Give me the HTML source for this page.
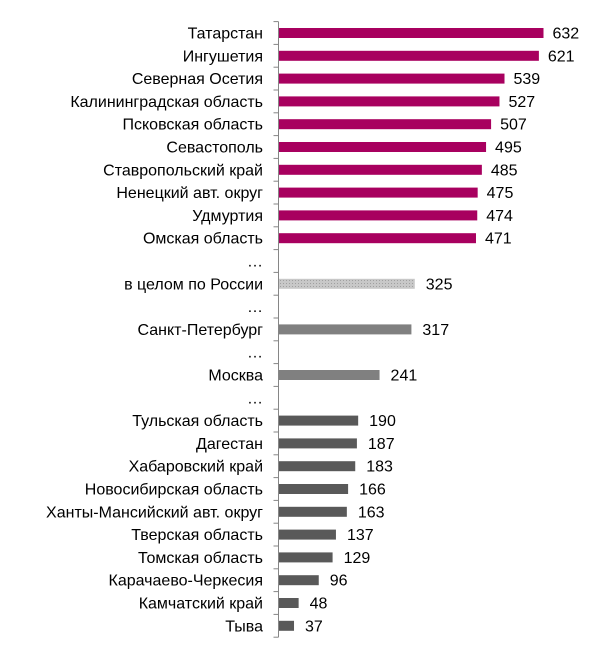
<!DOCTYPE html>
<html><head><meta charset="utf-8"><style>
html,body{margin:0;padding:0;background:#fff;}
svg text{font-family:"Liberation Sans",Arial,sans-serif;font-size:16px;fill:#000;}
</style></head><body>
<svg id="chart" width="607" height="655" xmlns="http://www.w3.org/2000/svg"></svg>
<script>
const categories = ["Татарстан","Ингушетия","Северная Осетия","Калининградская область","Псковская область","Севастополь","Ставропольский край","Ненецкий авт. округ","Удмуртия","Омская область","…","в целом по России","…","Санкт-Петербург","…","Москва","…","Тульская область","Дагестан","Хабаровский край","Новосибирская область","Ханты-Мансийский авт. округ","Тверская область","Томская область","Карачаево-Черкесия","Камчатский край","Тыва"];
const values = [632,621,539,527,507,495,485,475,474,471,null,325,null,317,null,241,null,190,187,183,166,163,137,129,96,48,37];
const groups = ["top","top","top","top","top","top","top","top","top","top","","russia","","city","","city","","bottom","bottom","bottom","bottom","bottom","bottom","bottom","bottom","bottom","bottom"];

const NS="http://www.w3.org/2000/svg";
const svg=document.getElementById('chart');
const x0=278.5, pxPerUnit=265/632;
const yTop=21.6, step=22.8, barH=10;
const xScale=v=>x0+v*pxPerUnit;
const yCenter=i=>yTop+step*(i+0.5);
const colors={top:"#A8005F",russia:"#C8C8C8",city:"#808080",bottom:"#595959"};

const defs=document.createElementNS(NS,'defs');
defs.innerHTML='<pattern id="dots" width="3" height="3" patternUnits="userSpaceOnUse"><rect width="3" height="3" fill="#C8C8C8"/><rect x="1" y="1" width="1" height="1" fill="#A0A0A0"/></pattern>';
svg.appendChild(defs);

categories.forEach((c,i)=>{
  const t=document.createElementNS(NS,'text');
  
  
  t.setAttribute('x',263);
  t.setAttribute('y',yCenter(i)+5.5);
  t.setAttribute('text-anchor','end');
  t.textContent=c;
  svg.appendChild(t);
  const v=values[i];
  if(v!==null){
    const r=document.createElementNS(NS,'rect');
    
    
    r.setAttribute('x',x0);
    r.setAttribute('y',yCenter(i)-barH/2);
    r.setAttribute('width',xScale(v)-x0);
    r.setAttribute('height',barH);
    r.setAttribute('fill',groups[i]==="russia"?"url(#dots)":colors[groups[i]]);
    svg.appendChild(r);
    const vt=document.createElementNS(NS,'text');
    
    
    vt.setAttribute('x',xScale(v)+(groups[i]==="top"?9:11));
    vt.setAttribute('y',yCenter(i)+5.5);
    vt.textContent=v;
    svg.appendChild(vt);
  }
});
for(let i=0;i<=categories.length;i++){
  const l=document.createElementNS(NS,'line');
  
  
  l.setAttribute('x1',x0-5);l.setAttribute('x2',x0);
  l.setAttribute('y1',yTop+step*i);l.setAttribute('y2',yTop+step*i);
  l.setAttribute('stroke','#868686');l.setAttribute('stroke-width','1');
  svg.appendChild(l);
}
const ax=document.createElementNS(NS,'line');


ax.setAttribute('x1',x0);ax.setAttribute('x2',x0);
ax.setAttribute('y1',yTop);ax.setAttribute('y2',yTop+step*categories.length);
ax.setAttribute('stroke','#868686');ax.setAttribute('stroke-width','1');
svg.appendChild(ax);
</script>
</body></html>
